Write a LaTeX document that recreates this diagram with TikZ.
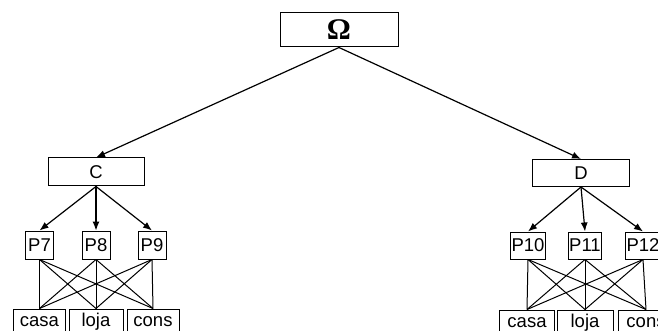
\documentclass[tikz,border=0pt]{standalone}
\usepackage{fontspec}
\setmainfont{Liberation Sans}
\newfontfamily\omfont{Liberation Serif}
\usetikzlibrary{arrows.meta}
\begin{document}
\begin{tikzpicture}[x=1pt,y=-1pt,
  every node/.style={font=\fontsize{18.5}{18.5}\selectfont},
  box/.style={draw,line width=1pt,rectangle,inner sep=0pt,anchor=center},
  arr/.style={line width=1.2pt,-{Latex[length=9pt,width=7pt]}},
  link/.style={line width=1pt}]
\useasboundingbox (0,0) rectangle (658,331);
\clip (0,0) rectangle (658,331);
% root
\node[box,minimum width=118pt,minimum height=34pt,font=\omfont\bfseries\fontsize{30}{30}\selectfont] (om) at (339,30) {Ω};
% level 1
\node[box,minimum width=96pt,minimum height=28pt] (c) at (96,172) {C};
\node[box,minimum width=97pt,minimum height=27pt] (d) at (581,173) {D};
% P nodes left
\node[box,minimum width=28pt,minimum height=28pt] (p7) at (39.5,245) {P7};
\node[box,minimum width=28pt,minimum height=28pt] (p8) at (96,245) {P8};
\node[box,minimum width=28pt,minimum height=28pt] (p9) at (152,245) {P9};
% P nodes right
\node[box,minimum width=35pt,minimum height=27pt] (p10) at (528,245.5) {P10};
\node[box,minimum width=33pt,minimum height=27pt] (p11) at (585,245.5) {P11};
\node[box,minimum width=35pt,minimum height=27pt] (p12) at (643,245.5) {P12};
% leaves left
\node[box,minimum width=52pt,minimum height=26pt] (ca1) at (39.5,322) {casa};
\node[box,minimum width=54pt,minimum height=26pt] (lo1) at (96,322) {loja};
\node[box,minimum width=52pt,minimum height=26pt] (co1) at (153,322) {cons};
% leaves right
\node[box,minimum width=55pt,minimum height=26pt] (ca2) at (527,323) {casa};
\node[box,minimum width=56pt,minimum height=26pt] (lo2) at (585,323) {loja};
\node[box,minimum width=55pt,minimum height=26pt] (co2) at (646,323) {cons};
% arrows
\draw[arr] (om.south) -- (c.north);
\draw[arr] (om.south) -- (d.north);
\foreach \p in {p7,p8,p9} \draw[arr] (c.south) -- (\p.north);
\foreach \p in {p10,p11,p12} \draw[arr] (d.south) -- (\p.north);
% links
\foreach \p in {p7,p8,p9} \foreach \l in {ca1,lo1,co1} \draw[link] (\p.south) -- (\l.north);
\foreach \p in {p10,p11,p12} \foreach \l in {ca2,lo2,co2} \draw[link] (\p.south) -- (\l.north);
\end{tikzpicture}
\end{document}
